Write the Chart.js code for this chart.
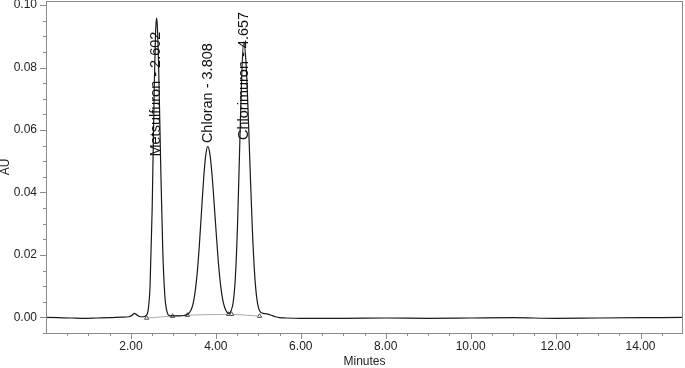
<!DOCTYPE html>
<html>
<head>
<meta charset="utf-8">
<script src="https://cdn.jsdelivr.net/npm/chart.js@4.4.1/dist/chart.umd.min.js"></script>
<style>
  html, body { margin: 0; padding: 0; background: #fff; }
  #wrap { width: 685px; height: 368px; }
</style>
</head>
<body>
<div id="wrap"><canvas id="chrom" width="685" height="368"></canvas></div>
<script>
'use strict';
// trace: retention time (min) / absorbance (AU)
const times = [
    0.00, 0.30, 0.60, 0.90, 1.20, 1.50, 1.80, 1.95, 2.02, 2.08, 2.14, 2.20, 2.26, 2.32, 2.36,
    2.40, 2.45, 2.50, 2.55, 2.58, 2.602, 2.62, 2.65, 2.70, 2.75, 2.80, 2.85, 2.90, 2.95,
    3.05, 3.15, 3.25, 3.31, 3.36, 3.41, 3.46, 3.51, 3.56, 3.61, 3.66, 3.71, 3.76, 3.808,
    3.86, 3.91, 3.96, 4.01, 4.06, 4.11, 4.16, 4.21, 4.26, 4.31,
    4.36, 4.41, 4.46, 4.51, 4.56, 4.61, 4.657, 4.71, 4.76, 4.81, 4.86, 4.91, 4.96, 5.01,
    5.06, 5.11, 5.20, 5.30, 5.40, 5.50, 5.65, 6.00, 7.00, 8.00, 9.00, 10.00, 11.00,
    12.00, 13.00, 14.00, 15.00
];
const absorb = [
    0.0000, -0.0001, -0.0002, -0.0003, -0.0002, -0.0001, 0.0001, 0.0002, 0.0006, 0.0013, 0.0008, 0.0003, 0.0002, 0.0003, 0.0006,
    0.0019, 0.0099, 0.0347, 0.0743, 0.0912, 0.0958, 0.0937, 0.0818, 0.0494, 0.0213, 0.0067, 0.0018, 0.0006, 0.0005,
    0.0005, 0.0005, 0.0006, 0.0008, 0.0013, 0.0022, 0.0042, 0.0080, 0.0141, 0.0229, 0.0335, 0.0440, 0.0518, 0.0547,
    0.0523, 0.0456, 0.0364, 0.0266, 0.0175, 0.0105, 0.0058, 0.0031, 0.0017, 0.0012,
    0.0022, 0.0050, 0.0130, 0.0295, 0.0540, 0.0779, 0.0882, 0.0815, 0.0655, 0.0460, 0.0280, 0.0145, 0.0065, 0.0028,
    0.0016, 0.0013, 0.0011, 0.0007, 0.0002, -0.0001, -0.0002, -0.0003, -0.0003, -0.0002, -0.0003, -0.0002, -0.0001,
    -0.0003, -0.0002, -0.0001, 0.0000
];

// integration baseline (peak start / end marks)
const baseTimes = [2.37, 2.98, 3.33, 4.30, 4.37, 5.03];
const baseAbs = [-0.0002, 0.0004, 0.0007, 0.0010, 0.0010, 0.0004];

// peak names and retention times
const peakNames = ['Metsulfuron', 'Chloran', 'Chlorimuron'];
const peakTimes = [2.602, 3.808, 4.657];

// axis ticks
const xMajor = [2, 4, 6, 8, 10, 12, 14];
const xMinorStep = 0.5;
const yMajor = [0, 0.02, 0.04, 0.06, 0.08, 0.10];
const yMinorStep = 0.005;

const FONT = '"Liberation Sans", Arial, sans-serif';
const AXIS_GREY = '#8a8a8a';

function isMajor(v, list) {
    return list.some((m) => Math.abs(m - v) < 1e-9);
}

function stepTicks(from, to, step) {
    const out = [];
    const n = Math.round((to - from) / step);
    for (let i = 0; i <= n; i++) out.push({ value: +(from + i * step).toFixed(6) });
    return out;
}

//frame + major/minor tick marks
const tickMarks = {
    id: 'tickMarks',
    afterDraw(chart) {
        const { ctx, chartArea: a } = chart;
        const x = chart.scales.x, y = chart.scales.y;
        ctx.save();
        ctx.strokeStyle = AXIS_GREY;
        ctx.lineWidth = 1;
        ctx.strokeRect(a.left + 0.5, a.top + 0.5, a.right - a.left - 1, a.bottom - a.top);
        ctx.beginPath();
        x.ticks.forEach((t) => {
            if (t.value <= x.min || t.value >= x.max) return;
            const px = Math.round(x.getPixelForValue(t.value)) + 0.5;
            const len = isMajor(t.value, xMajor) ? 6 : 3;
            ctx.moveTo(px, a.bottom);
            ctx.lineTo(px, a.bottom + len);
        });
        y.ticks.forEach((t) => {
            const py = Math.round(y.getPixelForValue(t.value)) + 0.5;
            const len = isMajor(t.value, yMajor) ? 6 : 3;
            ctx.moveTo(a.left, py);
            ctx.lineTo(a.left - len, py);
        });
        ctx.stroke();
        ctx.restore();
    },
};

//vertical peak names
const peakLabels = {
    id: 'peakLabels',
    afterDatasetsDraw(chart, args, opts) {
        const { ctx } = chart;
        const x = chart.scales.x, y = chart.scales.y;
        ctx.save();
        ctx.font = '14.5px ' + FONT;
        ctx.fillStyle = '#111';
        ctx.textAlign = 'left';
        ctx.textBaseline = 'middle';
        peakNames.forEach((name, i) => {
            ctx.save();
            ctx.translate(x.getPixelForValue(peakTimes[i]), y.getPixelForValue(opts.start[i]));
            ctx.rotate(-Math.PI / 2);
            ctx.fillText(name + ' - ' + peakTimes[i].toFixed(3), 0, 0);
            ctx.restore();
        });
        ctx.restore();
    },
};

const config = {
    type: 'line',
    data: {
        datasets: [
            {
                data: times.map((t, i) => ({ x: t, y: absorb[i] })),
                borderColor: '#1a1a1a',
                borderWidth: 1.2,
                pointRadius: 0,
                cubicInterpolationMode: 'monotone',
            },
            {
                data: baseTimes.map((t, i) => ({ x: t, y: baseAbs[i] })),
                borderColor: '#a8a8a8',
                borderWidth: 1,
                tension: 0.4,
                pointStyle: 'triangle',
                pointRadius: 2.5,
                pointBackgroundColor: '#fff',
                pointBorderColor: '#555',
                pointBorderWidth: 1,
            },
        ],
    },
    options: {
        responsive: false,
        animation: false,
        devicePixelRatio: 1,
        layout: { autoPadding: false, padding: { top: 1, right: 2, left: 0, bottom: 0 } },
        plugins: {
            legend: { display: false },
            tooltip: { enabled: false },
            peakLabels: { start: [0.0515, 0.0558, 0.0568] },
        },
        scales: {
            x: {
                type: 'linear',
                min: 0,
                max: 15,
                afterBuildTicks(s) { s.ticks = stepTicks(0, 15, xMinorStep); },
                afterFit(s) {
                    s.height = 35;
                    s.paddingLeft = 0;
                    s.paddingRight = 0;
                },
                border: { display: false },
                grid: { drawOnChartArea: false, drawTicks: false },
                ticks: {
                    autoSkip: false,
                    maxRotation: 0,
                    padding: 6,
                    color: '#222',
                    font: { family: FONT, size: 12 },
                    callback: (v) => (isMajor(v, xMajor) ? v.toFixed(2) : ''),
                },
                title: {
                    display: true,
                    text: 'Minutes',
                    color: '#222',
                    font: { family: FONT, size: 12, lineHeight: 1 },
                    padding: { top: 0, bottom: 0 },
                },
            },
            y: {
                min: -0.005,
                max: 0.1013,
                afterBuildTicks(s) { s.ticks = stepTicks(-0.005, 0.1, yMinorStep); },
                afterFit(s) {
                    s.width = 46;
                    s.paddingTop = 0;
                    s.paddingBottom = 0;
                },
                border: { display: false },
                grid: { drawOnChartArea: false, drawTicks: false },
                ticks: {
                    autoSkip: false,
                    padding: 9,
                    color: '#222',
                    font: { family: FONT, size: 12 },
                    callback: (v) => (isMajor(v, yMajor) ? v.toFixed(2) : ''),
                },
                title: {
                    display: true,
                    text: 'AU',
                    color: '#222',
                    font: { family: FONT, size: 12, lineHeight: 1 },
                    padding: { top: 0, bottom: 0 },
                },
            },
        },
    },
    plugins: [tickMarks, peakLabels],
};

new Chart(document.getElementById('chrom'), config);
</script>
</body>
</html>
